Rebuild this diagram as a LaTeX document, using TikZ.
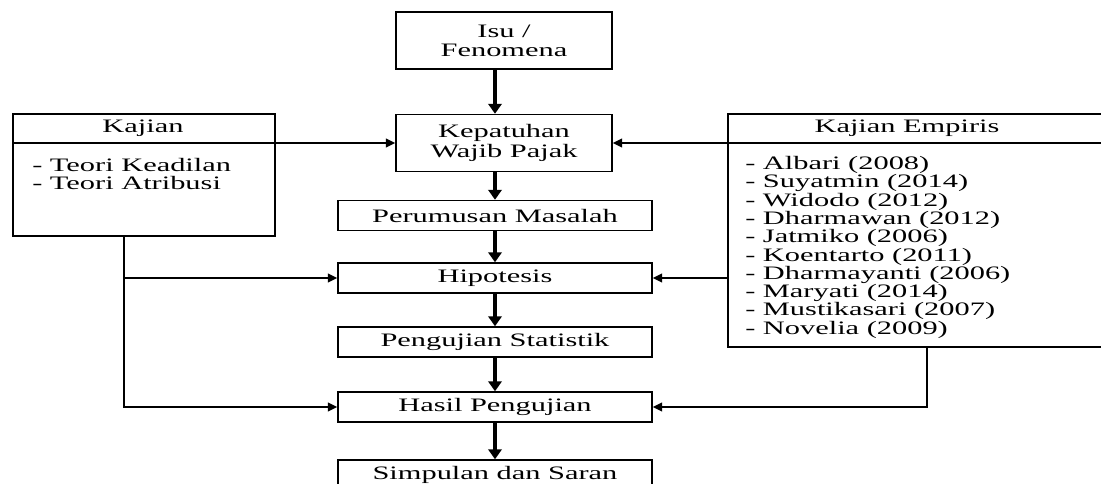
\documentclass[tikz,border=0pt]{standalone}
\usepackage{fontspec}
\setmainfont{Liberation Serif}[FakeStretch=1.6]
\usetikzlibrary{arrows.meta}
\tikzset{
	every box/.style={
		rectangle,
		draw,
		line width=1.1pt,
		inner sep=0pt
	},
	box flow/.style={
		minimum width=235.5pt,
		minimum height=22.5pt
	},
	box top/.style={
		minimum width=162pt,
		minimum height=42.75pt,
		align=center
	},
	box kajian/.style={
		minimum width=196.5pt,
		minimum height=91.5pt
	},
	box empiris/.style={
		minimum width=286.5pt,
		minimum height=174.75pt
	},
	list item/.style={
		anchor=west,
		inner sep=0pt
	},
	flow arrow/.style={
		line width=2.6pt,
		-{Triangle[length=7.5pt,width=10pt]}
	},
	side arrow/.style={
		line width=1.3pt,
		-{Triangle[length=7pt,width=6.5pt]}
	},
}
\begin{document}
\begin{tikzpicture}[x=0.75pt, y=-0.75pt, font=\fontsize{14.25}{14.5}\selectfont]

\useasboundingbox (0,0) rectangle (1101,483);

\node [every box, box top] (isu) at (504,40.5) {Isu /\\Fenomena};
\node [every box, box top] (kep) at (504,143) {Kepatuhan\\Wajib Pajak};

\foreach \n/\y/\l in {rum/215.5/Perumusan Masalah, hip/278/Hipotesis, uji/342/Pengujian Statistik, hasil/407/Hasil Pengujian, simp/475/Simpulan dan Saran}
	\node [every box, box flow] (\n) at (495,\y) {\l};

\node [every box, box kajian] (kaj) at (144,175) {};
\node [list item, anchor=center] (kaj-title) at (143,128) {Kajian};
\foreach \l [count=\i] in {Teori Keadilan, Teori Atribusi}
	\node [list item] (kaj-\i) at (32,147+18*\i) {- \l};

\node [every box, box empiris] (emp) at (919,230.5) {};
\node [list item, anchor=center] (emp-title) at (907,128) {Kajian Empiris};
\foreach \l [count=\i] in {{Albari (2008)}, {Suyatmin (2014)}, {Widodo (2012)}, {Dharmawan (2012)}, {Jatmiko (2006)}, {Koentarto (2011)}, {Dharmayanti (2006)}, {Maryati (2014)}, {Mustikasari (2007)}, {Novelia (2009)}}
	\node [list item] (emp-\i) at (745,146.7+18.3*\i) {- \l};

\foreach \a/\b in {isu/kep, kep/rum, rum/hip, hip/uji, uji/hasil, hasil/simp}
	\draw [flow arrow] (\a.south -| rum.north) -- (\b.north -| rum.north);

\draw [side arrow] (kaj.west |- kep.west) -- (kep.west);
\draw [side arrow] (emp.east |- kep.east) -- (kep.east);
\draw [side arrow] (emp.west |- hip.east) -- (hip.east);
\draw [side arrow] ([xshift=-15pt]kaj.south) |- (hasil.west);
\draw [side arrow] ([xshift=-15pt]kaj.south |- hip.west) -- (hip.west);
\draw [side arrow] ([xshift=6pt]emp.south) |- (hasil.east);

\end{tikzpicture}
\end{document}
